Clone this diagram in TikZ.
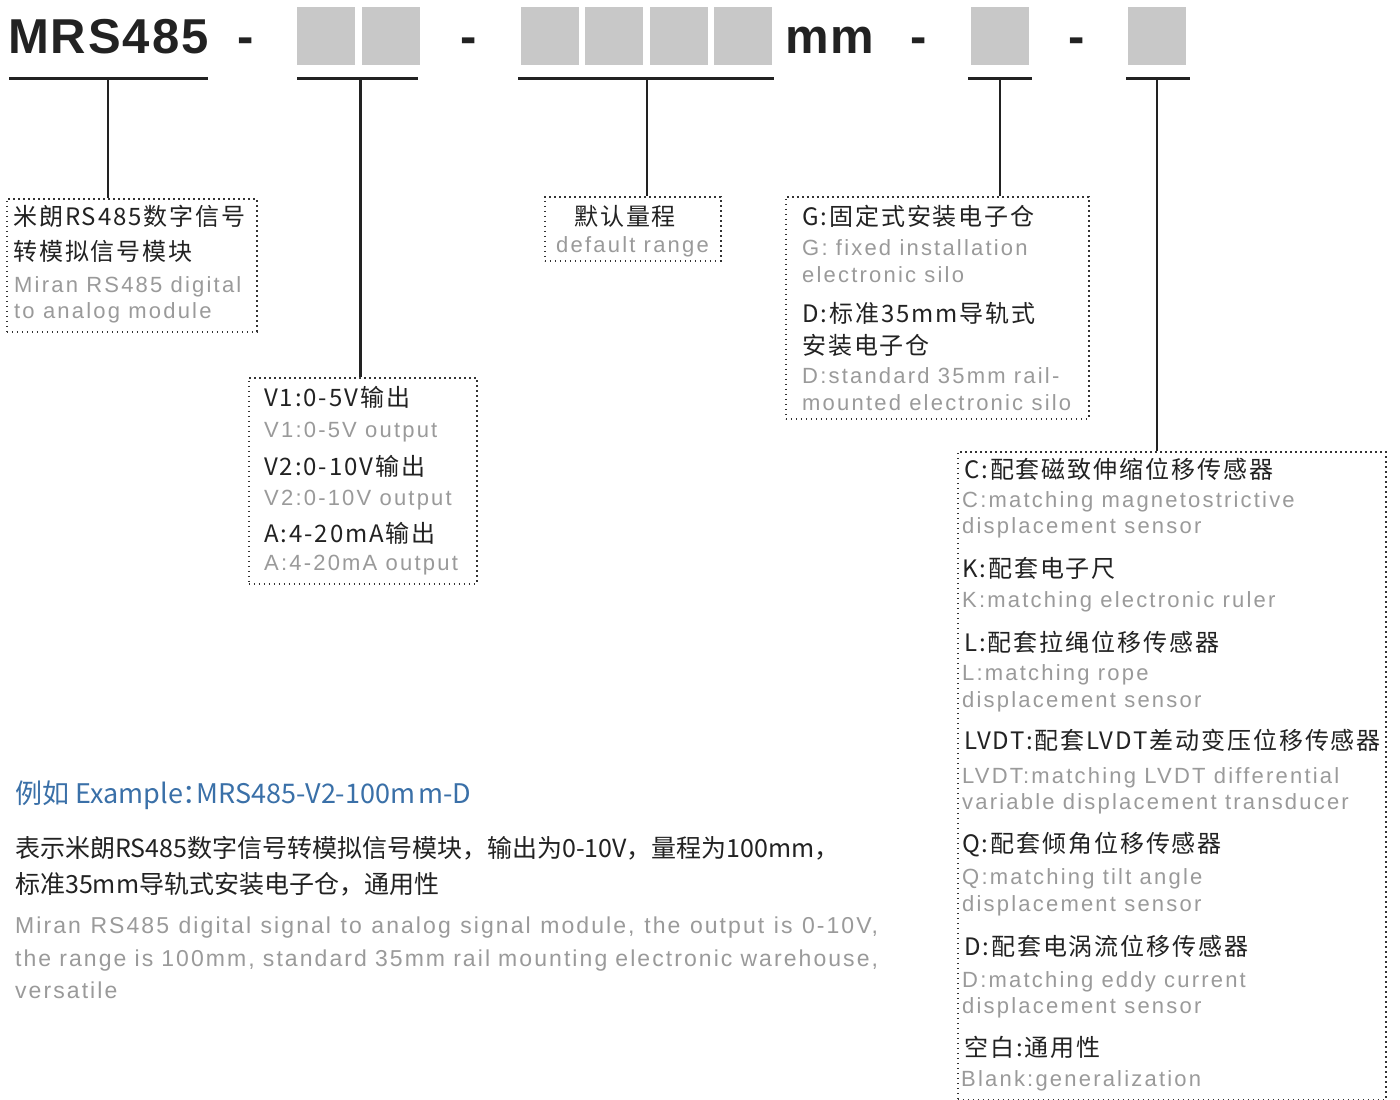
\documentclass[tikz,border=0pt]{standalone}
\usepackage{fontspec}
\setmainfont{Noto Sans CJK SC}
\newfontfamily\cnsp[LetterSpace=8]{Noto Sans CJK SC}
\newfontfamily\cnplain{Noto Sans CJK SC}
\newfontfamily\ensp[LetterSpace=10]{Liberation Sans}
\newfontfamily\enbody[LetterSpace=9]{Liberation Sans}
\newfontfamily\hdfont[LetterSpace=4]{Liberation Sans}
\definecolor{ink}{HTML}{222222}
\definecolor{grey}{HTML}{9A9A9A}
\definecolor{boxgrey}{HTML}{C8C8C8}
\definecolor{blue}{HTML}{3A70A8}
\definecolor{dotc}{HTML}{333333}
\tikzset{
  blk/.style={anchor=base west, inner sep=0pt, text=ink, font=\cnsp\fontsize{24}{24}\selectfont},
  gry/.style={anchor=base west, inner sep=0pt, text=grey, font=\ensp\fontsize{22}{22}\selectfont},
  dotbox/.style={draw=dotc, line width=1.6pt, dash pattern=on 1.6pt off 3.4pt, anchor=north west, inner sep=0pt},
  gsq/.style={fill=boxgrey, draw=none, anchor=north west, inner sep=0pt, minimum width=58pt, minimum height=58pt},
  hdr/.style={inner sep=0pt, text=ink, font=\hdfont\bfseries\fontsize{49}{49}\selectfont},
  uline/.style={draw=ink, line width=2.6pt},
  conn/.style={draw=ink, line width=2.6pt},
  para/.style={anchor=base west, inner sep=0pt, text=ink, font=\cnplain\fontsize{25}{25}\selectfont},
  gpara/.style={anchor=base west, inner sep=0pt, text=grey, font=\enbody\fontsize{23}{23}\selectfont},
}
\begin{document}
\begin{tikzpicture}[x=1pt,y=-1pt]
\useasboundingbox (0,0) rectangle (1400,1100);
\fill[white] (0,0) rectangle (1400,1100);
% header
\node[hdr, anchor=base west] (mrs) at (8,53) {MRS485};
\node[hdr, anchor=base] (h1) at (246,53) {-};
\node[hdr, anchor=base] (h2) at (469,53) {-};
\node[hdr, anchor=base west] (mm) at (785,53) {mm};
\node[hdr, anchor=base] (h3) at (919,53) {-};
\node[hdr, anchor=base] (h4) at (1077,53) {-};
\node[gsq] (s1) at (297,7) {};
\node[gsq] (s2) at (362,7) {};
\node[gsq] (s3) at (521,7) {};
\node[gsq] (s4) at (585,7) {};
\node[gsq] (s5) at (650,7) {};
\node[gsq] (s6) at (714,7) {};
\node[gsq] (s7) at (971,7) {};
\node[gsq] (s8) at (1128,7) {};
% underlines
\draw[uline] (9,78.5) -- (208,78.5);
\draw[uline] (297,78.5) -- (418,78.5);
\draw[uline] (518,78.5) -- (774,78.5);
\draw[uline] (968,78.5) -- (1032,78.5);
\draw[uline] (1126,78.5) -- (1190,78.5);
\coordinate (c1) at (108,78.5);
\coordinate (c2) at (360.5,78.5);
\coordinate (c3) at (647,78.5);
\coordinate (c4) at (1000,78.5);
\coordinate (c5) at (1157,78.5);
% boxes
\node[dotbox, minimum width=250pt, minimum height=133pt] (bA) at (6,198) {};
\node[dotbox, minimum width=176pt, minimum height=64pt] (bB) at (544,196) {};
\node[dotbox, minimum width=303pt, minimum height=222pt] (bC) at (785,196) {};
\node[dotbox, minimum width=228pt, minimum height=206pt] (bD) at (248,377) {};
\node[dotbox, minimum width=428pt, minimum height=648pt] (bE) at (957,451) {};
% connectors
\draw[conn] (c1) -- (c1 |- bA.north);
\draw[conn] (c2) -- (c2 |- bD.north);
\draw[conn] (c3) -- (c3 |- bB.north);
\draw[conn] (c4) -- (c4 |- bC.north);
\draw[conn] (c5) -- (c5 |- bE.north);
% box A
\node[blk] (a1) at (13,225) {米朗RS485数字信号};
\node[blk] (a2) at (13,260) {转模拟信号模块};
\node[gry] (a3) at (14,292) {Miran RS485 digital};
\node[gry] (a4) at (14,318) {to analog module};
% box B
\node[blk] (b1) at (574,225) {默认量程};
\node[gry] (b2) at (556,252) {default range};
% box C
\node[blk] (k1) at (802,225) {G:固定式安装电子仓};
\node[gry] (k2) at (802,255) {G: fixed installation};
\node[gry] (k3) at (802,282) {electronic silo};
\node[blk] (k4) at (802,322) {D:标准35mm导轨式};
\node[blk] (k5) at (802,354) {安装电子仓};
\node[gry] (k6) at (802,383) {D:standard 35mm rail-};
\node[gry] (k7) at (802,410) {mounted electronic silo};
% box D
\node[blk] (d1) at (264,406) {V1:0-5V输出};
\node[gry] (d2) at (264,437) {V1:0-5V output};
\node[blk] (d3) at (264,475) {V2:0-10V输出};
\node[gry] (d4) at (264,505) {V2:0-10V output};
\node[blk] (d5) at (264,542) {A:4-20mA输出};
\node[gry] (d6) at (264,570) {A:4-20mA output};
% box E
\node[blk] (e1) at (964,478) {C:配套磁致伸缩位移传感器};
\node[gry] (e2) at (962,507) {C:matching magnetostrictive};
\node[gry] (e3) at (962,533) {displacement sensor};
\node[blk] (e4) at (962,577) {K:配套电子尺};
\node[gry] (e5) at (962,607) {K:matching electronic ruler};
\node[blk] (e6) at (964,651) {L:配套拉绳位移传感器};
\node[gry] (e7) at (962,680) {L:matching rope};
\node[gry] (e8) at (962,707) {displacement sensor};
\node[blk] (e9) at (964,749) {LVDT:配套LVDT差动变压位移传感器};
\node[gry] (e10) at (962,783) {LVDT:matching LVDT differential};
\node[gry] (e11) at (962,809) {variable displacement transducer};
\node[blk] (e12) at (962,852) {Q:配套倾角位移传感器};
\node[gry] (e13) at (962,884) {Q:matching tilt angle};
\node[gry] (e14) at (962,911) {displacement sensor};
\node[blk] (e15) at (964,955) {D:配套电涡流位移传感器};
\node[gry] (e16) at (962,987) {D:matching eddy current};
\node[gry] (e17) at (962,1013) {displacement sensor};
\node[blk] (e18) at (964,1056) {空白:通用性};
\node[gry] (e19) at (961,1086) {Blank:generalization};
% example
\node[anchor=base west, inner sep=0pt, text=blue, font=\cnplain\fontsize{27}{27}\selectfont] (x0) at (15,803) {例如 Example：\kern-13pt MRS485-V2-100m\kern3pt m-D};
\node[para] (x1) at (15,857) {表示米朗RS485数字信号转模拟信号模块，输出为0-10V，量程为100mm，};
\node[para] (x2) at (15,893) {标准35mm导轨式安装电子仓，通用性};
\node[gpara] (x3) at (15,933) {\makebox[863pt][s]{Miran RS485 digital signal to analog signal module, the output is 0-10V,}};
\node[gpara] (x4) at (15,966) {\makebox[863pt][s]{the range is 100mm, standard 35mm rail mounting electronic warehouse,}};
\node[gpara] (x5) at (15,998) {versatile};
\end{tikzpicture}
\end{document}
